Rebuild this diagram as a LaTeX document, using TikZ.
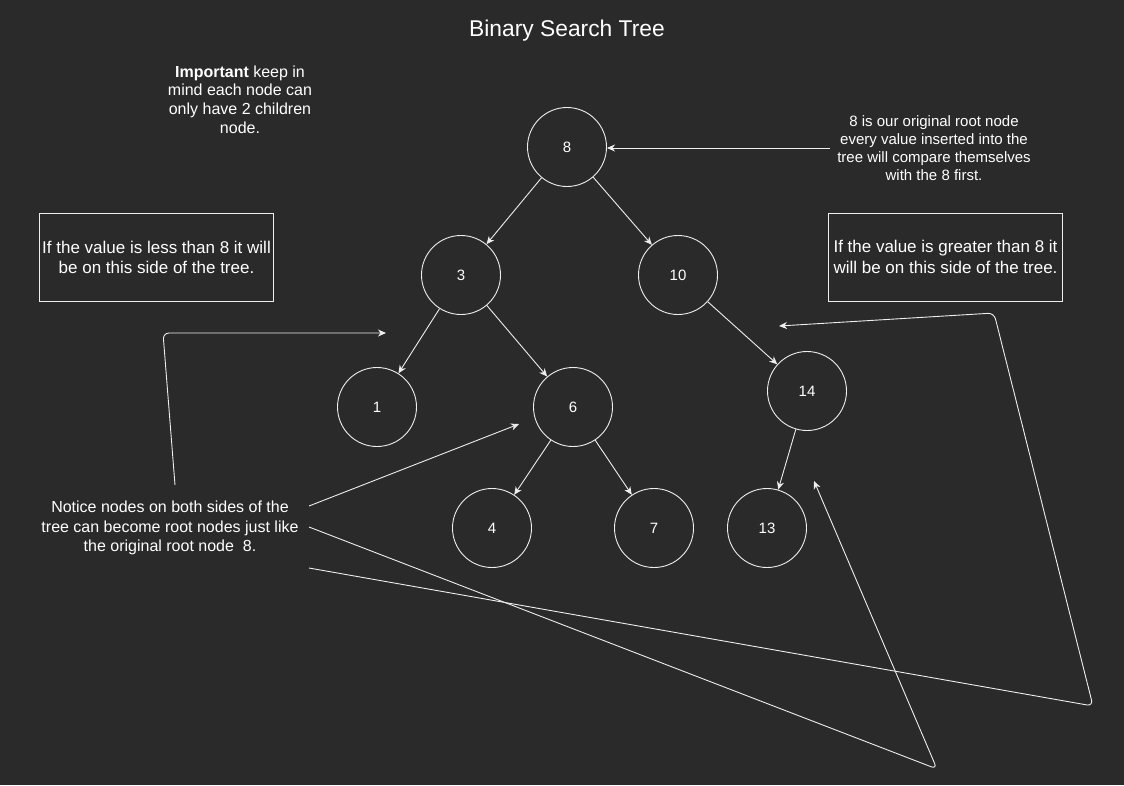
\documentclass[tikz,border=0pt]{standalone}
\usepackage{fontspec}
\setmainfont{Liberation Sans}
\usetikzlibrary{arrows.meta}
\definecolor{bg}{HTML}{2A2A2A}
\definecolor{ln}{HTML}{EEEEEE}
\begin{document}
\begin{tikzpicture}[x=1pt,y=-1pt,
 tnode/.style={circle,draw=ln,line width=0.9pt,minimum size=79pt,inner sep=0pt,text=white,font=\fontsize{15}{17}\selectfont},
 edge/.style={draw=ln,line width=0.9pt,-{Stealth[length=8pt,width=7pt,inset=2.5pt]}},
 freeline/.style={draw=ln,line width=0.9pt,rounded corners=6pt},
 note/.style={text=white,align=center,inner sep=0pt},
 infobox/.style={draw=ln,line width=0.9pt,text=white,align=center,minimum width=234pt,minimum height=88pt,inner sep=0pt,font=\fontsize{17}{20.3}\selectfont}]
\fill[bg] (0,0) rectangle (1124,785);
\useasboundingbox (0,0) rectangle (1124,785);
% title
\node[text=white,font=\fontsize{22.8}{26}\selectfont] (title) at (567,31) {Binary Search Tree};
% tree nodes
\node[tnode] (n8) at (567,147) {8};
\node[tnode] (n3) at (461,275) {3};
\node[tnode] (n10) at (678,275) {10};
\node[tnode] (n1) at (377,407) {1};
\node[tnode] (n6) at (573,407) {6};
\node[tnode] (n14) at (807,391) {14};
\node[tnode] (n4) at (492,528) {4};
\node[tnode] (n7) at (654,528) {7};
\node[tnode] (n13) at (767,528) {13};
% tree edges
\draw[edge] (n8) -- (n3);
\draw[edge] (n8) -- (n10);
\draw[edge] (n3) -- (n1);
\draw[edge] (n3) -- (n6);
\draw[edge] (n10) -- (n14);
\draw[edge] (n6) -- (n4);
\draw[edge] (n6) -- (n7);
\draw[edge] (n14) -- (n13);
% notes
\node[note,font=\fontsize{16}{18.7}\selectfont] (imp) at (240,99.5) {\textbf{Important} keep in\\mind each node can\\only have 2 children\\node.};
\node[note,font=\fontsize{15}{18.2}\selectfont] (root) at (934,148.3) {8 is our original root node\\every value inserted into the\\tree will compare themselves\\with the 8 first.};
\node[note,font=\fontsize{16}{19.5}\selectfont] (notice) at (170,528) {Notice nodes on both sides of the\\tree can become root nodes just like\\the original root node\ \ 8.};
\node[infobox] (less) at (156.5,257.5) {If the value is less than 8 it will\\be on this side of the tree.};
\node[infobox] (greater) at (945.5,257) {If the value is greater than 8 it\\will be on this side of the tree.};
% free arrows
\coordinate (rootA) at (830,148);
\coordinate (rootT) at (607,148);
\draw[edge] (rootA) -- (rootT);
\coordinate (lA) at (175,485);
\coordinate (lT) at (386,333);
\draw[freeline,edge] (lA) -- (163,333) -- (lT);
\coordinate (sixA) at (309,506);
\coordinate (sixT) at (519,424);
\draw[edge] (sixA) -- (sixT);
\coordinate (midA) at (309,527);
\coordinate (midT) at (814,481);
\draw[freeline,edge] (midA) -- (937,769) -- (midT);
\coordinate (lowA) at (309,568);
\coordinate (lowT) at (779,326);
\draw[freeline,edge] (lowA) -- (1093,706) -- (994,313) -- (lowT);
\end{tikzpicture}
\end{document}
